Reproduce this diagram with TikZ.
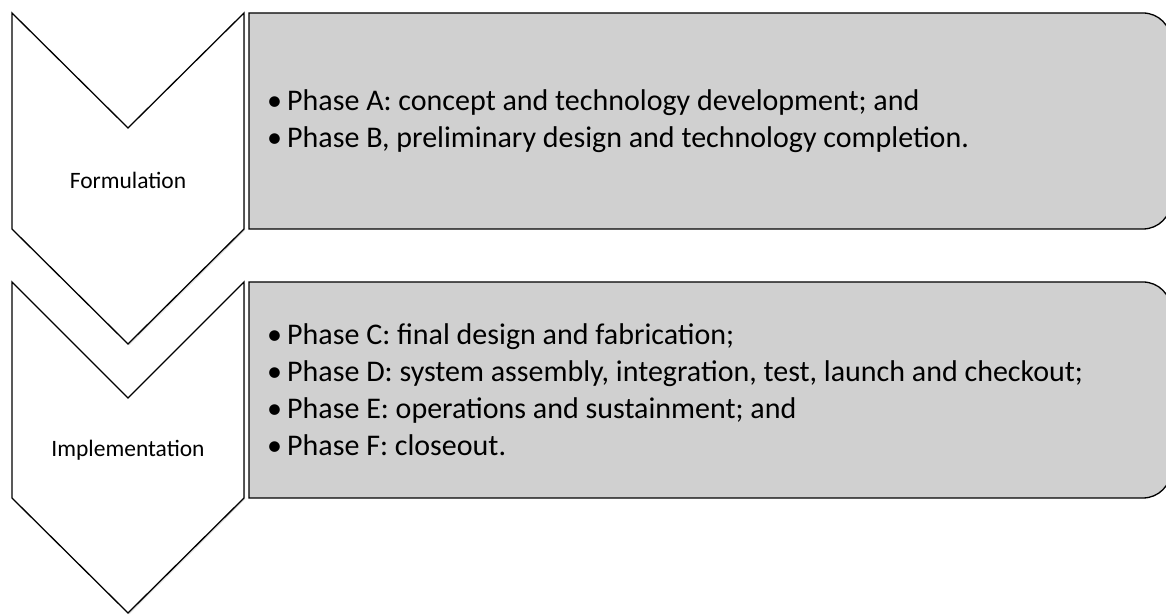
\documentclass[tikz,border=0pt]{standalone}
\usepackage{fontspec}
\setmainfont{Carlito}
\usetikzlibrary{shadows}

\definecolor{boxgrey}{RGB}{208,208,208}
\newcommand{\phaseitem}[1]{\makebox[20pt][l]{\textbullet}#1}

\begin{document}
\begin{tikzpicture}[
    x=1pt, y=1pt,
    chevron/.style={draw=black, line width=1.3pt, fill=white, line join=miter,
        drop shadow={opacity=0.25, shadow xshift=1pt, shadow yshift=-1.5pt}},
    phasebox/.style={draw=black, line width=1.3pt, fill=boxgrey},
    stagelabel/.style={inner sep=0pt, font=\fontsize{23.5}{28}\selectfont},
    phasetext/.style={anchor=west, inner sep=0pt, align=left, font=\fontsize{30}{37}\selectfont}
]
\useasboundingbox (0,0) rectangle (1166,615);

% Stage chevrons
\draw[chevron] (12,602) -- (128,487) -- (244,602) -- (244,386) -- (128,271) -- (12,386) -- cycle;
\draw[chevron] (12,333) -- (128,217) -- (244,333) -- (244,117) -- (128,2) -- (12,117) -- cycle;

% Phase boxes
\draw[phasebox] (249,386) -- (249,602) -- (1143,602) arc[start angle=90, end angle=0, radius=28]
    -- (1171,414) arc[start angle=0, end angle=-90, radius=28] -- cycle;
\draw[phasebox] (249,117) -- (249,333) -- (1143,333) arc[start angle=90, end angle=0, radius=28]
    -- (1171,145) arc[start angle=0, end angle=-90, radius=28] -- cycle;

% Labels
\node[stagelabel] (formulation) at (128,435) {Formulation};
\node[stagelabel] (implementation) at (128,165) {Implementation};

\node[phasetext] (formphases) at (267,494) {%
    \phaseitem{Phase A: concept and technology development; and}\\
    \phaseitem{Phase B, preliminary design and technology completion.}};
\node[phasetext] (implphases) at (267,225) {%
    \phaseitem{Phase C: final design and fabrication;}\\
    \phaseitem{Phase D: system assembly, integration, test, launch and checkout;}\\
    \phaseitem{Phase E: operations and sustainment; and}\\
    \phaseitem{Phase F: closeout.}};

\end{tikzpicture}
\end{document}
